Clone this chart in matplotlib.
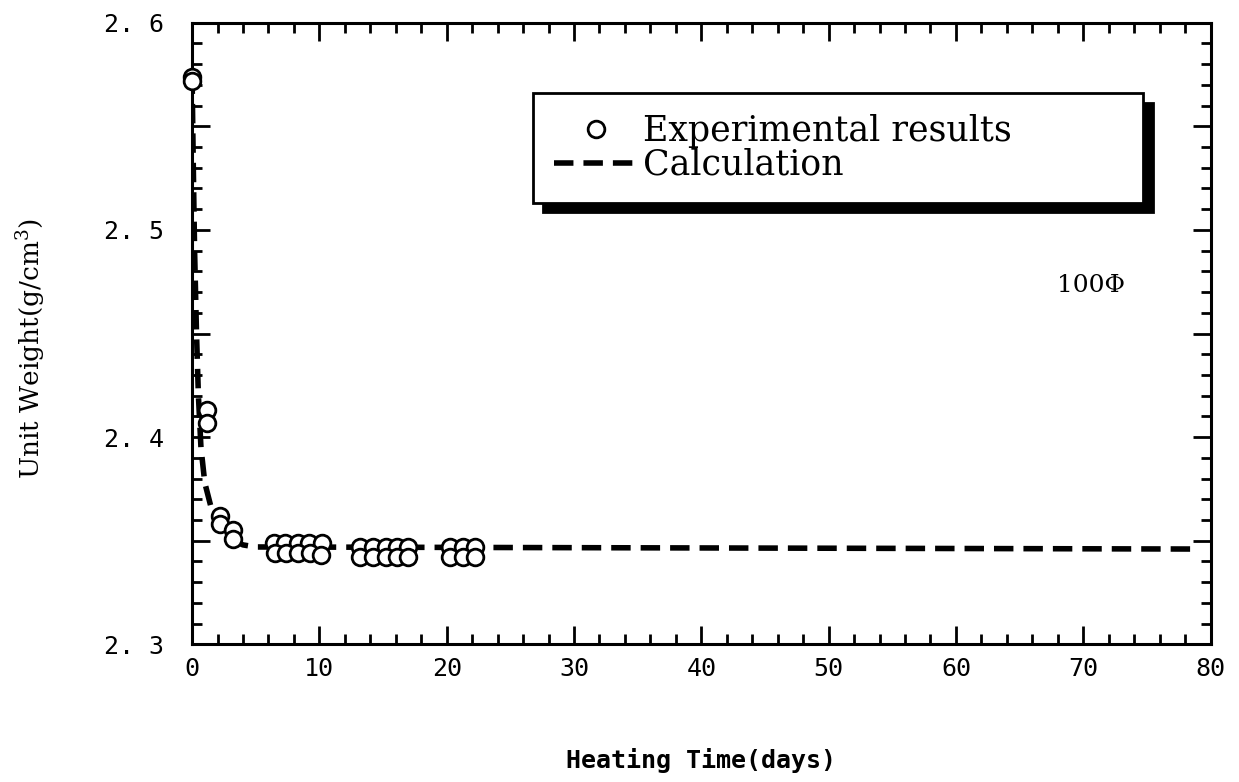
import numpy as np
import matplotlib
matplotlib.use("Agg")
from matplotlib import pyplot as plt
from matplotlib.ticker import MultipleLocator, FuncFormatter

# experimental results (days, g/cm3)
exp_days = [0, 0, 1.2, 1.2, 2.2, 2.2, 3.2, 3.2,
            6.4, 7.3, 8.3, 9.2, 10.2,
            6.5, 7.4, 8.3, 9.3, 10.1,
            13.2, 14.2, 15.2, 16.1, 17.0,
            13.2, 14.2, 15.2, 16.1, 17.0,
            20.3, 21.3, 22.2,
            20.3, 21.3, 22.2]
exp_weight = [2.574, 2.572, 2.413, 2.407, 2.362, 2.358, 2.355, 2.351,
              2.349, 2.349, 2.349, 2.349, 2.349,
              2.344, 2.344, 2.344, 2.344, 2.343,
              2.347, 2.347, 2.347, 2.347, 2.347,
              2.342, 2.342, 2.342, 2.342, 2.342,
              2.347, 2.347, 2.347,
              2.342, 2.342, 2.342]

# calculation curve
calc_days = [0, 0.1, 0.2, 0.35, 0.5, 0.7, 1.0, 1.5, 2.0, 3.0, 4.0, 5.0, 79]
calc_weight = [2.575, 2.53, 2.49, 2.45, 2.42, 2.395, 2.378, 2.366, 2.358,
               2.351, 2.348, 2.347, 2.346]

x_ticks = [0, 10, 20, 30, 40, 50, 60, 70, 80]

plt.rcParams['mathtext.fontset'] = 'dejavuserif'

fig = plt.figure(figsize=(12.39, 7.82), dpi=100)
ax = fig.add_axes([0.155, 0.176, 0.822, 0.795])

ax.plot(calc_days, calc_weight, color='black', lw=4, dashes=(3.5, 1.8),
        label='Calculation', zorder=2)
ax.plot(exp_days, exp_weight, ls='none', marker='o', ms=12, mfc='white',
        mec='black', mew=2, label='Experimental results', zorder=3,
        clip_on=False)

ax.set_xlim(0, 80)
ax.set_ylim(2.3, 2.6)
ax.set_xticks(x_ticks)
ax.xaxis.set_minor_locator(MultipleLocator(2))
ax.yaxis.set_major_locator(MultipleLocator(0.05))
ax.yaxis.set_minor_locator(MultipleLocator(0.01))


def ylab(v, pos):
    if abs(round(v * 10) - v * 10) < 1e-6:
        s = '%.1f' % v
        return s.replace('.', '. ')
    return ''


ax.yaxis.set_major_formatter(FuncFormatter(ylab))

ax.tick_params(which='both', direction='in', top=True, right=True, width=2)
ax.tick_params(which='major', length=13)
ax.tick_params(which='minor', length=7)
ax.tick_params(axis='x', pad=9)
ax.tick_params(axis='y', pad=20)
for lab in ax.get_xticklabels() + ax.get_yticklabels():
    lab.set_fontfamily('DejaVu Sans Mono')
    lab.set_fontsize(18)
for sp in ax.spines.values():
    sp.set_linewidth(2.2)

ax.set_xlabel('Heating Time(days)', fontfamily='DejaVu Sans Mono',
              fontweight='bold', fontsize=18, labelpad=48)
fig.text(0.025, 0.555, 'Unit Weight(g/cm$^3$)', fontfamily='DejaVu Serif',
         fontsize=19, rotation=90, ha='center', va='center')

ax.text(70.6, 2.473, '100Φ', fontfamily='DejaVu Serif', fontsize=18,
        ha='center', va='center')

h, l = ax.get_legend_handles_labels()
leg = ax.legend(h[::-1], l[::-1], loc='upper left',
                bbox_to_anchor=(0.335, 0.887, 0.599, 0.0), mode='expand',
                prop={'family': 'DejaVu Serif', 'size': 25},
                frameon=True, fancybox=False, framealpha=1,
                edgecolor='black', handlelength=2.4, handletextpad=0.15,
                labelspacing=0.0, borderpad=0.6, borderaxespad=0,
                shadow={'ox': 7, 'oy': -7, 'facecolor': 'black',
                        'edgecolor': 'black', 'alpha': 1})
leg.get_frame().set_linewidth(2)

fig.savefig('out.png', dpi=100)
